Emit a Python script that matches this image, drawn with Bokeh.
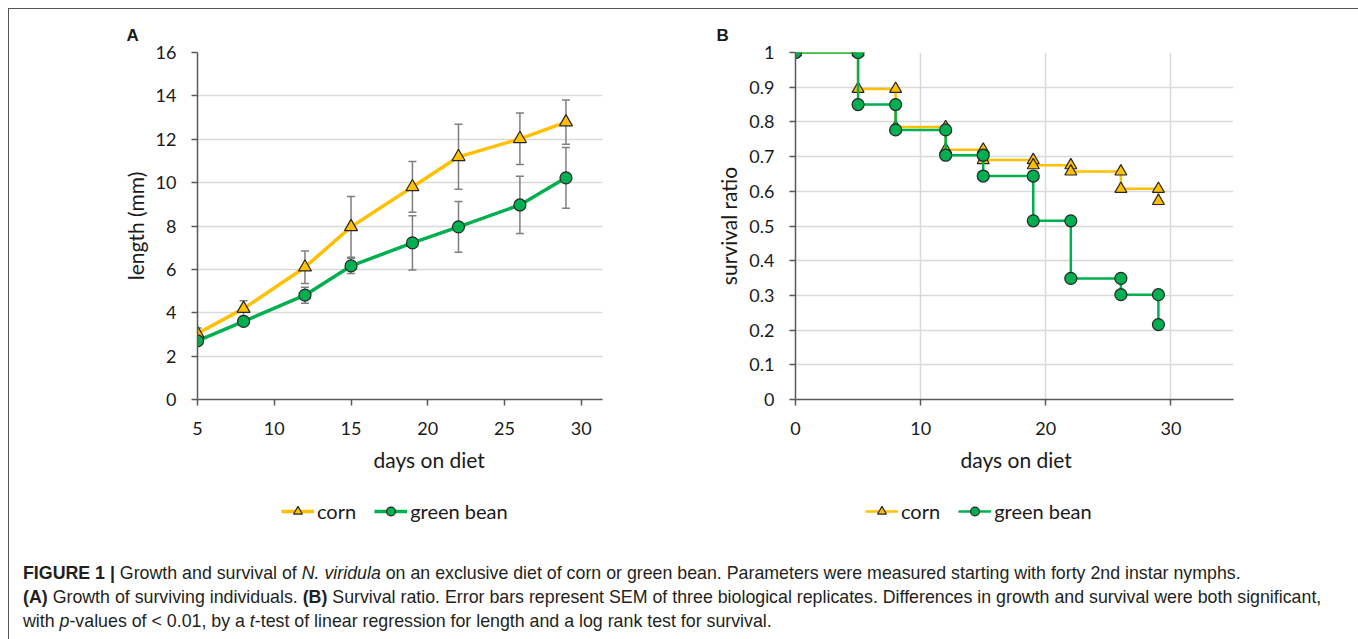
from bokeh.plotting import figure
from bokeh.models import (Range1d, FixedTicker, CustomJSTickFormatter, Title,
                          Legend, LegendItem, Div)
from bokeh.layouts import row, column
from bokeh.embed import file_html
from bokeh.resources import INLINE

# ---------------- data ----------------
growth_days = [5, 8, 12, 15, 19, 22, 26, 29]
corn_len = [3.04, 4.19, 6.10, 7.96, 9.80, 11.19, 12.02, 12.79]
corn_sem = [0.26, 0.36, 0.75, 1.40, 1.17, 1.50, 1.19, 1.02]
bean_len = [2.70, 3.60, 4.81, 6.16, 7.22, 7.96, 8.97, 10.22]
bean_sem = [0.08, 0.15, 0.37, 0.35, 1.25, 1.17, 1.32, 1.40]

surv_days = [0, 5, 8, 12, 15, 19, 22, 26, 29]
corn_surv = [1.0, 0.895, 0.785, 0.72, 0.69, 0.675, 0.657, 0.607, 0.572]
bean_surv = [1.0, 0.85, 0.777, 0.704, 0.644, 0.515, 0.349, 0.302, 0.216]

left_x_ticks = [5, 10, 15, 20, 25, 30]
left_y_ticks = [0, 2, 4, 6, 8, 10, 12, 14, 16]
right_x_ticks = [0, 10, 20, 30]
right_y_ticks = [0, 0.1, 0.2, 0.3, 0.4, 0.5, 0.6, 0.7, 0.8, 0.9, 1.0]

series_names = ["corn", "green bean"]

# ---------------- styles ----------------
CORN = "#FFC000"
BEAN = "#00B050"
EDGE = "#262626"
ERR = "#7F7F7F"
GRID = "#D9D9D9"
AXIS = "#595959"
TXT = "#1a1a1a"
FONT = "Lato"
H_MAIN = 488


def style_axes(p, ylabel):
    p.outline_line_color = None
    for ax in (p.xaxis[0], p.yaxis[0]):
        ax.axis_line_color = AXIS
        ax.axis_line_width = 1.5
        ax.major_tick_line_color = AXIS
        ax.major_tick_line_width = 1.5
        ax.major_tick_out = 6
        ax.major_tick_in = 0
        ax.minor_tick_line_color = None
        ax.major_label_text_font = FONT
        ax.major_label_text_font_size = "18px"
        ax.major_label_text_color = TXT
    p.xaxis.major_label_standoff = 16
    p.yaxis.major_label_standoff = 15
    p.yaxis.axis_label = ylabel
    p.yaxis.axis_label_text_font = FONT
    p.yaxis.axis_label_text_font_size = "21px"
    p.yaxis.axis_label_text_font_style = "normal"
    p.yaxis.axis_label_text_color = TXT
    p.yaxis.axis_label_standoff = 5
    p.ygrid.grid_line_color = GRID
    p.ygrid.grid_line_width = 1.5


def add_titles(p, letter, letter_offset, xlabel_offset):
    p.add_layout(Title(text=letter, align="left", offset=letter_offset,
                       vertical_align="bottom", standoff=16,
                       text_font="Liberation Sans", text_font_size="17px",
                       text_font_style="bold", text_color=TXT), "above")
    p.add_layout(Title(text="days on diet", align="left", offset=xlabel_offset,
                       vertical_align="top", standoff=18,
                       text_font=FONT, text_font_size="21px",
                       text_font_style="normal", text_color=TXT), "below")


def legend_figure(width, x, xs, ys_corn, ys_bean, line_w, tri_size, circ_size):
    # ranges chosen so that the series themselves stay out of view;
    # only the legend glyphs are shown in this strip
    f = figure(width=width, height=34, x_range=Range1d(-3, -2), y_range=Range1d(-3, -2),
               x_axis_type=None, y_axis_type=None, output_backend="svg",
               toolbar_location=None, min_border=0)
    f.outline_line_color = None
    f.xgrid.visible = False
    f.ygrid.visible = False
    cl = f.line(xs, ys_corn, line_color=CORN, line_width=line_w)
    cm = f.scatter(xs, ys_corn, marker="triangle", size=tri_size, fill_color=CORN,
                   line_color=EDGE, line_width=1.2)
    bl = f.line(xs, ys_bean, line_color=BEAN, line_width=line_w)
    bm = f.scatter(xs, ys_bean, marker="circle", size=circ_size, fill_color=BEAN,
                   line_color=EDGE, line_width=1.2)
    leg = Legend(items=[LegendItem(label=series_names[0], renderers=[cl, cm]),
                        LegendItem(label=series_names[1], renderers=[bl, bm])],
                 location=(x, 8), orientation="horizontal",
                 glyph_width=33, glyph_height=22, label_height=22, label_standoff=3,
                 spacing=18, padding=0, margin=0, border_line_color=None,
                 background_fill_alpha=0, label_text_font=FONT,
                 label_text_font_size="20px", label_text_color=TXT,
                 label_text_baseline="middle")
    f.add_layout(leg)
    return f


def step_vertices(t, s):
    xs, ys = [t[0]], [s[0]]
    for i in range(1, len(t)):
        xs += [t[i], t[i]]
        ys += [s[i - 1], s[i]]
    return xs, ys


# ---------------- panel A ----------------
p1 = figure(width=692, height=H_MAIN, x_range=Range1d(5, 31.38), y_range=Range1d(0, 16),
            output_backend="svg", toolbar_location=None,
            min_border_left=188, min_border_right=99, min_border_top=43,
            min_border_bottom=H_MAIN - 43 - 347)
p1.xaxis.ticker = FixedTicker(ticks=left_x_ticks)
p1.yaxis.ticker = FixedTicker(ticks=left_y_ticks)
style_axes(p1, "length (mm)")
p1.xgrid.visible = False

p1.line(growth_days, corn_len, line_color=CORN, line_width=3.5)
p1.line(growth_days, bean_len, line_color=BEAN, line_width=3.5)
for vals, sem in ((corn_len, corn_sem), (bean_len, bean_sem)):
    up = [v + e for v, e in zip(vals, sem)]
    lo = [v - e for v, e in zip(vals, sem)]
    p1.segment(x0=growth_days, y0=lo, x1=growth_days, y1=up, line_color=ERR, line_width=1.5)
    p1.scatter(growth_days, up, marker="dash", size=8, line_color=ERR, line_width=1.5)
    p1.scatter(growth_days, lo, marker="dash", size=8, line_color=ERR, line_width=1.5)
p1.scatter(growth_days, corn_len, marker="triangle", size=13,
           fill_color=CORN, line_color=EDGE, line_width=1.2)
p1.scatter(growth_days, bean_len, marker="circle", size=12,
           fill_color=BEAN, line_color=EDGE, line_width=1.2)
add_titles(p1, "A", -71, 176)

# ---------------- panel B ----------------
p2 = figure(width=654, height=H_MAIN, x_range=Range1d(0, 35), y_range=Range1d(0, 1),
            output_backend="svg", toolbar_location=None,
            min_border_left=94, min_border_right=122, min_border_top=43,
            min_border_bottom=H_MAIN - 43 - 347)
p2.xaxis.ticker = FixedTicker(ticks=right_x_ticks)
p2.yaxis.ticker = FixedTicker(ticks=right_y_ticks)
p2.yaxis.formatter = CustomJSTickFormatter(code="return String(Math.round(tick*10)/10)")
style_axes(p2, "survival ratio")
p2.xgrid.grid_line_color = GRID
p2.xgrid.grid_line_width = 1.5

cx, cy = step_vertices(surv_days, corn_surv)
bx, by = step_vertices(surv_days, bean_surv)
p2.line(cx, cy, line_color=CORN, line_width=2.5)
p2.scatter(cx, cy, marker="triangle", size=12, fill_color=CORN,
           line_color=EDGE, line_width=1.2)
p2.line(bx, by, line_color=BEAN, line_width=2.5)
p2.scatter(bx, by, marker="circle", size=12, fill_color=BEAN,
           line_color=EDGE, line_width=1.2)
add_titles(p2, "B", -79, 165)

# ---------------- legends ----------------
lg1 = legend_figure(692, 272, growth_days, corn_len, bean_len, 3.5, 13, 12)
lg2 = legend_figure(654, 164, surv_days, corn_surv, bean_surv, 2.5, 12, 12)

# ---------------- caption ----------------
cap_html = (
    '<div style="font-family:\'Liberation Sans\', Arial, sans-serif; font-size:17.8px; '
    'line-height:24px; color:#231f20; padding:25px 0 0 9px; white-space:nowrap;">'
    '<b>FIGURE 1 |</b> Growth and survival of <i>N. viridula</i> on an exclusive diet of '
    'corn or green bean. Parameters were measured starting with forty 2nd instar nymphs.<br>'
    '<b>(A)</b> Growth of surviving individuals. <b>(B)</b> Survival ratio. Error bars '
    'represent SEM of three biological replicates. Differences in growth and survival were '
    'both significant,<br>'
    'with <i>p</i>-values of &lt; 0.01, by a <i>t</i>-test of linear regression for length '
    'and a log rank test for survival.</div>'
)
caption = Div(text=cap_html, width=1346, height=99)

layout = column(row(p1, p2), row(lg1, lg2), caption, margin=(8, 0, 0, 8),
                styles={"border-top": "1px solid #555", "border-left": "1px solid #555",
                        "border-right": "1px solid #555"})

open("out.html", "w").write(file_html(layout, INLINE))
